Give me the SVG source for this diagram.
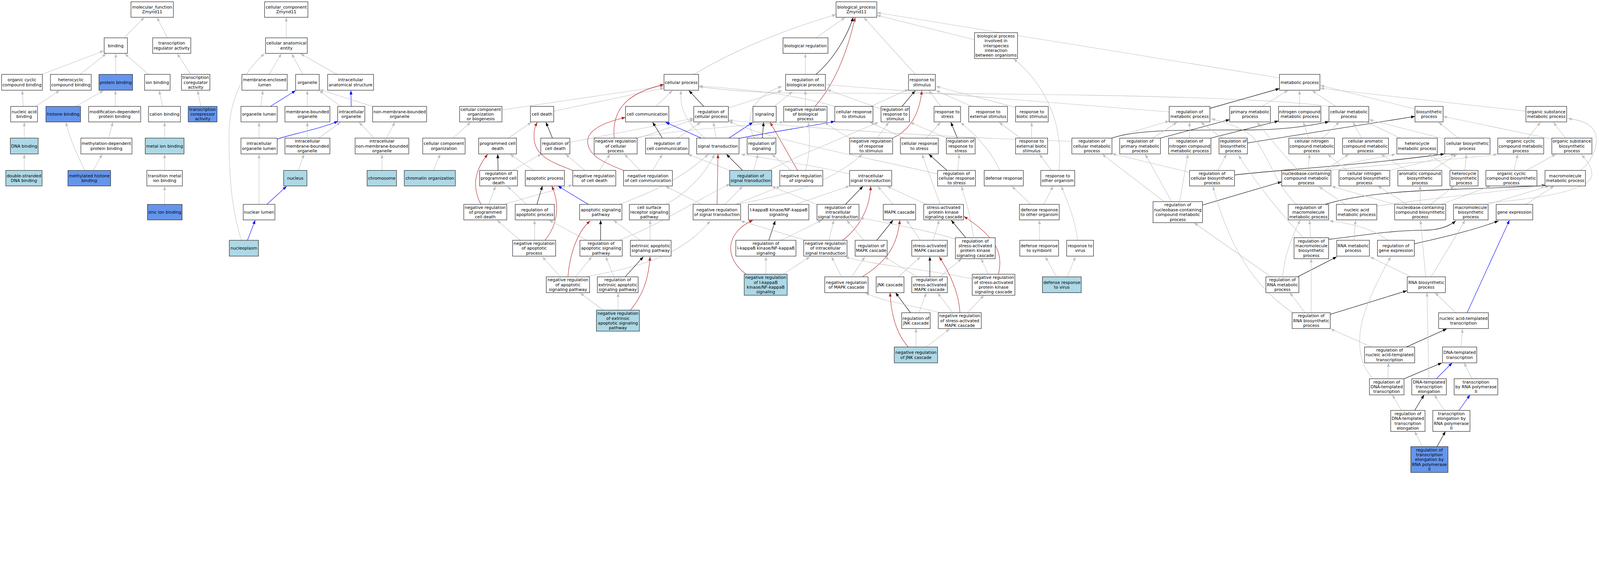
<svg xmlns="http://www.w3.org/2000/svg" width="4947" height="1467" viewBox="0 0 4947 1467" preserveAspectRatio="xMinYMin meet" style="width:100vw;height:100vh;display:block">
<style>
.nd rect{fill:#fff;stroke:#222;stroke-width:1.4}
.nd.lb rect{fill:#add8e6}
.nd.cb rect{fill:#6495ed}
text{font-family:"DejaVu Sans","Liberation Sans",sans-serif;font-size:13px;text-anchor:middle;fill:#000}
#edges path{fill:none;stroke-width:1.3}
#edges .g{stroke:#c0c0c0;marker-end:url(#ag)}
#edges .k{stroke:#000;marker-end:url(#ak)}
#edges .b{stroke:#0000ff;marker-end:url(#ab)}
#edges .r{stroke:#b22222;marker-end:url(#ar)}
</style>
<defs>
<marker id="ag" viewBox="0 0 12 9" refX="12" refY="4.5" markerWidth="12" markerHeight="9" markerUnits="userSpaceOnUse" orient="auto"><path d="M0,0 L12,4.5 L0,9 z" fill="#c0c0c0"/></marker>
<marker id="ak" viewBox="0 0 12 9" refX="12" refY="4.5" markerWidth="12" markerHeight="9" markerUnits="userSpaceOnUse" orient="auto"><path d="M0,0 L12,4.5 L0,9 z" fill="#000"/></marker>
<marker id="ab" viewBox="0 0 12 9" refX="12" refY="4.5" markerWidth="12" markerHeight="9" markerUnits="userSpaceOnUse" orient="auto"><path d="M0,0 L12,4.5 L0,9 z" fill="#0000ff"/></marker>
<marker id="ar" viewBox="0 0 12 9" refX="12" refY="4.5" markerWidth="12" markerHeight="9" markerUnits="userSpaceOnUse" orient="auto"><path d="M0,0 L12,4.5 L0,9 z" fill="#b22222"/></marker>
</defs>
<rect width="4947" height="1467" fill="#fff"/>
<g id="edges">
<path class="g" d="M384,117 L446,54"/>
<path class="g" d="M518,117 L485,54"/>
<path class="g" d="M130,230 L321,157"/>
<path class="g" d="M248,230 L328,166"/>
<path class="g" d="M358,230 L358,166"/>
<path class="g" d="M459,230 L386,166"/>
<path class="g" d="M589,229 L548,166"/>
<path class="g" d="M72,329 L69,280"/>
<path class="g" d="M110,329 L184,280"/>
<path class="g" d="M235,329 L320,280"/>
<path class="g" d="M356,329 L357,280"/>
<path class="g" d="M503,329 L492,280"/>
<path class="g" d="M621,329 L611,280"/>
<path class="g" d="M75,427 L75,378"/>
<path class="g" d="M336,427 L349,378"/>
<path class="g" d="M509,427 L509,378"/>
<path class="g" d="M75,527 L75,477"/>
<path class="g" d="M262,527 C240,480 215,430 204,378"/>
<path class="g" d="M288,527 L316,477"/>
<path class="g" d="M509,527 L509,477"/>
<path class="g" d="M509,632 L509,576"/>
<path class="g" d="M885,117 L885,54"/>
<path class="g" d="M832,230 L870,166"/>
<path class="g" d="M936,230 L902,166"/>
<path class="g" d="M1042,230 L929,166"/>
<path class="g" d="M806,329 L813,280"/>
<path class="b" d="M836,329 L914,280"/>
<path class="g" d="M950,329 L950,280"/>
<path class="g" d="M1053,329 L987,280"/>
<path class="b" d="M1086,329 L1085,280"/>
<path class="g" d="M1152,329 L988,277"/>
<path class="g" d="M801,427 L801,378"/>
<path class="b" d="M857,430 C920,410 990,398 1045,375"/>
<path class="g" d="M950,427 L950,378"/>
<path class="g" d="M985,427 L1053,378"/>
<path class="g" d="M1157,427 L1110,378"/>
<path class="g" d="M1195,427 L1221,378"/>
<path class="g" d="M922,527 L940,477"/>
<path class="g" d="M1181,527 L1181,477"/>
<path class="g" d="M801,632 L801,477"/>
<path class="b" d="M825,632 L886,576"/>
<path class="b" d="M765,743 L789,681"/>
<path class="g" d="M746,743 C718,650 708,560 708,420 C708,300 760,215 818,166"/>
<path class="g" d="M1340,527 L1361,477"/>
<path class="g" d="M1401,427 L1455,378"/>
<path class="g" d="M1552,340 L2053,266"/>
<path class="g" d="M1712,344 L2053,272"/>
<path class="g" d="M2145,230 Q2330,120 2585,45"/>
<path class="g" d="M2523,117 L2613,54"/>
<path class="g" d="M2490,230 L2490,166"/>
<path class="k" d="M2523,230 C2580,180 2620,110 2638,54"/>
<path class="r" d="M2520,329 C2580,260 2620,160 2644,54"/>
<path class="g" d="M2490,329 L2490,280"/>
<path class="g" d="M2830,230 L2671,54"/>
<path class="g" d="M3013,123 L2711,47"/>
<path class="g" d="M3956,241 L2711,39"/>
<path class="g" d="M2028,329 L2079,280"/>
<path class="k" d="M2176,329 L2130,280"/>
<path class="g" d="M2180,427 C2120,380 2100,330 2106,280"/>
<path class="r" d="M1899,427 C1890,330 1950,285 2053,261"/>
<path class="g" d="M2252,334 L2418,280"/>
<path class="g" d="M2394,329 L2450,283"/>
<path class="g" d="M2333,427 C2300,370 2320,300 2418,267"/>
<path class="g" d="M1970,428 L2145,370"/>
<path class="g" d="M1762,440 L2145,366"/>
<path class="g" d="M1960,427 C2100,400 2300,390 2423,377"/>
<path class="k" d="M1708,427 L1688,378"/>
<path class="k" d="M2048,427 L2018,378"/>
<path class="g" d="M2095,427 L2167,378"/>
<path class="b" d="M2168,427 L2058,378"/>
<path class="g" d="M2214,427 L2206,378"/>
<path class="b" d="M2254,427 L2328,378"/>
<path class="b" d="M2285,428 C2400,405 2500,392 2581,375"/>
<path class="k" d="M2357,427 L2361,378"/>
<path class="r" d="M2466,527 L2381,378"/>
<path class="g" d="M1572,427 L1643,378"/>
<path class="k" d="M1540,527 L1539,477"/>
<path class="r" d="M1487,632 C1460,580 1465,530 1508,477"/>
<path class="g" d="M1511,632 L1532,576"/>
<path class="g" d="M1628,632 L1569,576"/>
<path class="g" d="M1561,631 L1770,572"/>
<path class="g" d="M1585,527 L1674,476"/>
<path class="g" d="M1650,527 L1577,477"/>
<path class="g" d="M1608,743 L1537,681"/>
<path class="r" d="M1771,527 C1700,500 1650,480 1651,421 C1651,400 1655,390 1661,378"/>
<path class="g" d="M1808,527 L1749,477"/>
<path class="g" d="M1853,527 L1886,477"/>
<path class="r" d="M1928,527 C1860,500 1820,480 1817,440 C1815,405 1860,380 1934,363"/>
<path class="g" d="M1979,527 L1931,477"/>
<path class="g" d="M2018,527 L2048,477"/>
<path class="k" d="M2296,527 L2246,477"/>
<path class="g" d="M2257,527 L2127,477"/>
<path class="g" d="M2330,527 L2344,477"/>
<path class="g" d="M2447,527 L2386,477"/>
<path class="g" d="M2491,527 C2505,470 2505,420 2499,378"/>
<path class="g" d="M2376,527 L2470,483 L2716,378"/>
<path class="g" d="M2692,329 L2809,276"/>
<path class="g" d="M2581,329 C2450,290 2300,275 2161,266"/>
<path class="g" d="M4109,329 C3900,300 3300,288 2470,288 C2350,287 2250,280 2161,268"/>
<path class="g" d="M2724,337 L2557,277"/>
<path class="k" d="M2789,329 L2830,280"/>
<path class="r" d="M2760,427 C2820,400 2845,340 2850,280"/>
<path class="g" d="M2712,427 L2748,378"/>
<path class="g" d="M2627,428 L2549,379"/>
<path class="g" d="M2909,329 L2872,280"/>
<path class="g" d="M3005,329 L2894,280"/>
<path class="g" d="M3140,332 L2894,267"/>
<path class="g" d="M2864,427 L2908,378"/>
<path class="g" d="M2794,427 L2690,378"/>
<path class="k" d="M2960,427 L2940,378"/>
<path class="g" d="M2926,427 L2814,378"/>
<path class="g" d="M3155,427 L3089,378"/>
<path class="g" d="M3189,427 L3190,378"/>
<path class="g" d="M3314,437 C3000,428 2600,405 2253,372"/>
<path class="g" d="M2899,538 C2700,490 2400,440 2253,375"/>
<path class="g" d="M2627,538 C2550,520 2470,505 2291,477"/>
<path class="g" d="M2275,632 C2400,610 2560,575 2666,477"/>
<path class="k" d="M2928,527 L2872,477"/>
<path class="g" d="M2961,527 L2966,477"/>
<path class="g" d="M3092,527 C3060,460 3010,410 2970,379"/>
<path class="g" d="M3251,527 L3214,477"/>
<path class="g" d="M3274,527 C3290,380 3230,260 3134,182"/>
<path class="g" d="M3187,632 L3129,576"/>
<path class="g" d="M3227,632 L3256,576"/>
<path class="k" d="M2614,632 L2668,576"/>
<path class="r" d="M2605,743 C2650,710 2690,650 2692,576"/>
<path class="g" d="M2761,632 L2714,576"/>
<path class="g" d="M2864,632 L2743,576"/>
<path class="g" d="M2907,632 L2851,477"/>
<path class="g" d="M2460,632 L2627,575"/>
<path class="g" d="M2526,632 L2386,576"/>
<path class="k" d="M1660,632 L1677,575"/>
<path class="r" d="M1685,743 C1720,700 1735,640 1706,575"/>
<path class="g" d="M1653,743 L1653,681"/>
<path class="b" d="M1819,632 L1725,575"/>
<path class="g" d="M1915,632 C2000,600 2100,560 2190,477"/>
<path class="g" d="M2058,632 C2120,600 2180,540 2209,477"/>
<path class="r" d="M2217,632 L2220,477"/>
<path class="g" d="M2241,632 L2296,576"/>
<path class="g" d="M2275,632 L2413,576"/>
<path class="g" d="M2169,632 L2058,576"/>
<path class="k" d="M1857,743 L1857,681"/>
<path class="g" d="M1814,743 L1698,681"/>
<path class="g" d="M1915,743 C2050,690 2150,620 2257,569"/>
<path class="g" d="M1979,743 L1897,681"/>
<path class="g" d="M2010,743 L2010,681"/>
<path class="g" d="M1815,855 C1950,830 2100,800 2196,683"/>
<path class="r" d="M1756,856 C1760,800 1780,720 1825,683"/>
<path class="g" d="M1733,856 L1677,794"/>
<path class="g" d="M1779,856 L1830,794"/>
<path class="k" d="M1933,856 L1989,794"/>
<path class="g" d="M1898,856 L1873,794"/>
<path class="g" d="M1911,959 L1911,906"/>
<path class="g" d="M1865,959 L1794,906"/>
<path class="r" d="M1949,959 C1990,910 2005,860 2010,794"/>
<path class="k" d="M2377,743 L2397,683"/>
<path class="g" d="M2415,743 L2541,681"/>
<path class="g" d="M2368,848 L2368,794"/>
<path class="r" d="M2307,848 C2240,800 2240,720 2328,681"/>
<path class="g" d="M2421,848 L2504,794"/>
<path class="g" d="M2563,743 L2578,681"/>
<path class="g" d="M2491,743 L2290,683"/>
<path class="k" d="M2711,743 L2761,681"/>
<path class="g" d="M2671,743 L2618,681"/>
<path class="r" d="M2666,856 C2740,810 2775,760 2782,681"/>
<path class="g" d="M2634,856 L2674,794"/>
<path class="g" d="M2602,856 L2571,794"/>
<path class="g" d="M2778,856 L2846,794"/>
<path class="g" d="M2846,743 L2803,681"/>
<path class="g" d="M2885,743 L2904,681"/>
<path class="k" d="M2986,735 L2941,681"/>
<path class="g" d="M3010,735 C3000,660 2985,620 2973,576"/>
<path class="g" d="M2954,740 C2900,720 2750,690 2658,674"/>
<path class="r" d="M3087,848 C3100,790 3090,740 2980,669"/>
<path class="g" d="M3055,848 L3034,800"/>
<path class="g" d="M3006,862 C2850,830 2700,820 2613,794"/>
<path class="k" d="M2875,856 L2875,794"/>
<path class="g" d="M2835,856 L2735,794"/>
<path class="g" d="M2907,856 L2973,800"/>
<path class="k" d="M2815,967 L2769,905"/>
<path class="g" d="M2841,967 L2864,906"/>
<path class="g" d="M2946,967 L2899,906"/>
<path class="r" d="M2968,967 C2965,910 2940,850 2904,794"/>
<path class="g" d="M2991,967 L3042,913"/>
<path class="g" d="M2907,967 C2800,940 2720,930 2676,905"/>
<path class="r" d="M2808,1073 C2770,1030 2755,970 2752,905"/>
<path class="g" d="M2832,1073 L2832,1016"/>
<path class="g" d="M2864,1073 L2936,1017"/>
<path class="g" d="M3214,743 L3214,681"/>
<path class="g" d="M3332,743 C3325,680 3300,620 3281,576"/>
<path class="g" d="M3267,856 L3232,794"/>
<path class="g" d="M3300,856 L3325,794"/>
<path class="k" d="M3741,335 L3956,274"/>
<path class="g" d="M3615,346 L2557,262"/>
<path class="g" d="M3902,329 L3983,279"/>
<path class="g" d="M4018,329 L4018,280"/>
<path class="g" d="M4130,329 L4057,280"/>
<path class="g" d="M4375,337 L4082,264"/>
<path class="g" d="M4718,344 L4082,273"/>
<path class="g" d="M3438,427 L3615,374"/>
<path class="k" d="M3438,427 C3520,400 3650,402 3850,402 C3950,402 4040,392 4109,376"/>
<path class="g" d="M3565,427 L3639,378"/>
<path class="k" d="M3588,427 L3802,370"/>
<path class="g" d="M3678,427 L3678,378"/>
<path class="k" d="M3744,427 L3953,374"/>
<path class="g" d="M3779,427 L3713,378"/>
<path class="k" d="M3857,442 L4375,360"/>
<path class="g" d="M4046,427 L4030,378"/>
<path class="g" d="M4089,427 L4141,377"/>
<path class="g" d="M4210,427 L4183,378"/>
<path class="g" d="M4329,427 L4228,378"/>
<path class="g" d="M4467,430 L4233,370"/>
<path class="g" d="M4509,427 L4448,378"/>
<path class="g" d="M4723,427 L4763,378"/>
<path class="g" d="M4840,427 L4803,378"/>
<path class="g" d="M4798,430 L4462,360"/>
<path class="g" d="M3766,527 L3792,477"/>
<path class="g" d="M3678,533 L3438,475"/>
<path class="k" d="M3817,541 C3950,525 4200,512 4466,476"/>
<path class="g" d="M4044,527 L4049,477"/>
<path class="g" d="M4015,527 C3960,470 3920,420 3887,378"/>
<path class="g" d="M4095,527 L4170,477"/>
<path class="g" d="M4100,527 C4150,505 4250,490 4315,477"/>
<path class="g" d="M4110,527 C4300,505 4500,495 4630,477"/>
<path class="g" d="M4165,527 L4105,477"/>
<path class="g" d="M4297,527 L4498,477"/>
<path class="g" d="M4350,527 L4270,477"/>
<path class="g" d="M4427,527 L4505,477"/>
<path class="g" d="M4491,527 L4419,477"/>
<path class="g" d="M4529,527 L4534,477"/>
<path class="g" d="M4681,527 L4693,477"/>
<path class="g" d="M4720,527 L4810,477"/>
<path class="g" d="M4887,527 C4930,490 4945,440 4930,405 C4915,380 4880,370 4848,367"/>
<path class="k" d="M3718,634 L3963,562"/>
<path class="g" d="M3600,624 L3408,477"/>
<path class="g" d="M3623,624 L3541,477"/>
<path class="g" d="M3647,624 L3673,477"/>
<path class="g" d="M4009,632 C3940,570 3920,470 3870,420 C3830,390 3790,380 3745,367"/>
<path class="k" d="M4097,632 C4200,600 4350,590 4500,585 C4650,580 4720,578 4779,573"/>
<path class="g" d="M4030,735 C3950,650 3880,560 3829,480"/>
<path class="g" d="M4052,735 L4049,681"/>
<path class="k" d="M4108,740 C4200,730 4300,712 4400,712 C4450,712 4480,700 4501,683"/>
<path class="g" d="M3996,967 C3900,900 3810,800 3750,576"/>
<path class="g" d="M3930,856 L3692,689"/>
<path class="g" d="M3966,856 C3970,800 3990,740 4020,681"/>
<path class="k" d="M4012,856 L4133,794"/>
<path class="g" d="M4035,967 L3988,905"/>
<path class="g" d="M4054,967 L4054,800"/>
<path class="k" d="M4113,972 L4350,899"/>
<path class="g" d="M4241,1073 L4114,1017"/>
<path class="k" d="M4373,754 C4480,730 4560,710 4633,683"/>
<path class="g" d="M4290,743 C4250,710 4180,690 4110,683"/>
<path class="g" d="M4186,743 L4191,681"/>
<path class="g" d="M4362,856 L4236,794"/>
<path class="g" d="M4408,856 L4392,681"/>
<path class="g" d="M4425,856 L4530,681"/>
<path class="g" d="M4501,967 L4437,905"/>
<path class="b" d="M4536,967 L4667,681"/>
<path class="k" d="M4348,1073 L4473,1017"/>
<path class="g" d="M4517,1073 L4522,1017"/>
<path class="g" d="M4291,1171 L4293,1122"/>
<path class="k" d="M4342,1171 L4458,1122"/>
<path class="g" d="M4247,1171 C4200,1130 4195,1050 4215,980 C4240,900 4280,830 4300,794"/>
<path class="b" d="M4441,1171 L4490,1122"/>
<path class="g" d="M4418,1171 L4412,905"/>
<path class="g" d="M4551,1171 L4527,1122"/>
<path class="g" d="M4333,1269 L4305,1221"/>
<path class="k" d="M4374,1269 L4403,1221"/>
<path class="g" d="M4466,1269 L4435,1221"/>
<path class="b" d="M4511,1269 L4545,1221"/>
<path class="g" d="M4398,1381 L4374,1334"/>
<path class="k" d="M4443,1381 L4469,1334"/>
<path class="g" d="M4312,632 L4117,576"/>
<path class="g" d="M4350,632 L4260,575"/>
<path class="g" d="M4391,632 L4391,575"/>
<path class="g" d="M4423,632 L4496,575"/>
<path class="g" d="M4456,632 L4609,575"/>
<path class="g" d="M4600,632 L4790,575"/>
<path class="g" d="M4600,627 C4750,615 4920,590 4922,540 C4922,515 4905,495 4890,478"/>
<path class="g" d="M4718,632 L4805,575"/>
<path class="g" d="M4159,632 L4078,577"/>
<path class="g" d="M4257,637 C4450,610 4650,590 4777,575"/>
</g>
<g id="n-mf" class="nd"><rect x="405" y="5.5" width="131" height="48"/><text x="470.5" y="26.6">molecular_function<tspan x="470.5" dy="15">Zmynd11</tspan></text></g>
<g id="n-binding" class="nd"><rect x="322" y="117" width="72" height="48"/><text x="358" y="145.6">binding</text></g>
<g id="n-tra" class="nd"><rect x="472" y="117" width="118" height="48"/><text x="531" y="138.1">transcription<tspan x="531" dy="15">regulator activity</tspan></text></g>
<g id="n-occb" class="nd"><rect x="5" y="230" width="126" height="49"/><text x="68" y="251.6">organic cyclic<tspan x="68" dy="15">compound binding</tspan></text></g>
<g id="n-hcb" class="nd"><rect x="156" y="230" width="126" height="49"/><text x="219" y="251.6">heterocyclic<tspan x="219" dy="15">compound binding</tspan></text></g>
<g id="n-pb" class="nd cb"><rect x="306" y="230" width="104" height="49"/><text x="358" y="259.1">protein binding</text></g>
<g id="n-ionb" class="nd"><rect x="447" y="230" width="79" height="49"/><text x="486.5" y="259.1">ion binding</text></g>
<g id="n-tca" class="nd"><rect x="561" y="230" width="88" height="49"/><text x="605" y="244.1">transcription<tspan x="605" dy="15">coregulator</tspan><tspan x="605" dy="15">activity</tspan></text></g>
<g id="n-nab" class="nd"><rect x="33" y="329" width="83" height="48"/><text x="74.5" y="350.1">nucleic acid<tspan x="74.5" dy="15">binding</tspan></text></g>
<g id="n-hb" class="nd cb"><rect x="142" y="329" width="107" height="48"/><text x="195.5" y="357.6">histone binding</text></g>
<g id="n-mdpb" class="nd"><rect x="274" y="329" width="161" height="48"/><text x="354.5" y="350.1">modification-dependent<tspan x="354.5" dy="15">protein binding</tspan></text></g>
<g id="n-cb" class="nd"><rect x="459" y="329" width="99" height="48"/><text x="508.5" y="357.6">cation binding</text></g>
<g id="n-tcoa" class="nd cb"><rect x="582" y="329" width="89" height="48"/><text x="626.5" y="342.6">transcription<tspan x="626.5" dy="15">corepressor</tspan><tspan x="626.5" dy="15">activity</tspan></text></g>
<g id="n-dnab" class="nd lb"><rect x="32" y="427" width="86" height="49"/><text x="75" y="456.1">DNA binding</text></g>
<g id="n-methdpb" class="nd"><rect x="250" y="427" width="158" height="49"/><text x="329" y="448.6">methylation-dependent<tspan x="329" dy="15">protein binding</tspan></text></g>
<g id="n-mib" class="nd lb"><rect x="449" y="427" width="120" height="49"/><text x="509" y="456.1">metal ion binding</text></g>
<g id="n-dsdna" class="nd lb"><rect x="18" y="527" width="112" height="48"/><text x="74" y="548.1">double-stranded<tspan x="74" dy="15">DNA binding</tspan></text></g>
<g id="n-mhb" class="nd cb"><rect x="210" y="527" width="132" height="48"/><text x="276" y="548.1">methylated histone<tspan x="276" dy="15">binding</tspan></text></g>
<g id="n-tmib" class="nd"><rect x="454" y="527" width="110" height="48"/><text x="509" y="548.1">transition metal<tspan x="509" dy="15">ion binding</tspan></text></g>
<g id="n-zib" class="nd cb"><rect x="456" y="632" width="107" height="48"/><text x="509.5" y="660.6">zinc ion binding</text></g>
<g id="n-cc" class="nd"><rect x="818" y="5.5" width="134" height="48"/><text x="885" y="26.6">cellular_component<tspan x="885" dy="15">Zmynd11</tspan></text></g>
<g id="n-cae" class="nd"><rect x="821" y="117" width="129" height="48"/><text x="885.5" y="138.1">cellular anatomical<tspan x="885.5" dy="15">entity</tspan></text></g>
<g id="n-mel" class="nd"><rect x="748" y="230" width="140" height="49"/><text x="818" y="251.6">membrane-enclosed<tspan x="818" dy="15">lumen</tspan></text></g>
<g id="n-org" class="nd"><rect x="914" y="230" width="73" height="49"/><text x="950.5" y="259.1">organelle</text></g>
<g id="n-ias" class="nd"><rect x="1013" y="230" width="142" height="49"/><text x="1084" y="251.6">intracellular<tspan x="1084" dy="15">anatomical structure</tspan></text></g>
<g id="n-orgl" class="nd"><rect x="745" y="329" width="112" height="48"/><text x="801" y="357.6">organelle lumen</text></g>
<g id="n-mbo" class="nd"><rect x="881" y="329" width="139" height="48"/><text x="950.5" y="350.1">membrane-bounded<tspan x="950.5" dy="15">organelle</tspan></text></g>
<g id="n-io" class="nd"><rect x="1044" y="329" width="84" height="48"/><text x="1086" y="350.1">intracellular<tspan x="1086" dy="15">organelle</tspan></text></g>
<g id="n-nmbo" class="nd"><rect x="1152" y="329" width="167" height="48"/><text x="1235.5" y="350.1">non-membrane-bounded<tspan x="1235.5" dy="15">organelle</tspan></text></g>
<g id="n-iol" class="nd"><rect x="745" y="427" width="112" height="49"/><text x="801" y="448.6">intracellular<tspan x="801" dy="15">organelle lumen</tspan></text></g>
<g id="n-imbo" class="nd"><rect x="881" y="427" width="139" height="49"/><text x="950.5" y="441.1">intracellular<tspan x="950.5" dy="15">membrane-bounded</tspan><tspan x="950.5" dy="15">organelle</tspan></text></g>
<g id="n-inmbo" class="nd"><rect x="1098" y="427" width="166" height="49"/><text x="1181" y="441.1">intracellular<tspan x="1181" dy="15">non-membrane-bounded</tspan><tspan x="1181" dy="15">organelle</tspan></text></g>
<g id="n-nucleus" class="nd lb"><rect x="877" y="527" width="72" height="48"/><text x="913" y="555.6">nucleus</text></g>
<g id="n-chrom" class="nd lb"><rect x="1135" y="527" width="91" height="48"/><text x="1180.5" y="555.6">chromosome</text></g>
<g id="n-nl" class="nd"><rect x="752" y="632" width="98" height="48"/><text x="801" y="660.6">nuclear lumen</text></g>
<g id="n-np" class="nd lb"><rect x="709" y="743" width="90" height="49"/><text x="754" y="772.1">nucleoplasm</text></g>
<g id="n-bp" class="nd"><rect x="2585" y="5.5" width="126" height="48"/><text x="2648" y="26.6">biological_process<tspan x="2648" dy="15">Zmynd11</tspan></text></g>
<g id="n-breg" class="nd"><rect x="2421" y="117" width="139" height="48"/><text x="2490.5" y="145.6">biological regulation</text></g>
<g id="n-bpi" class="nd"><rect x="3013" y="101" width="133" height="80"/><text x="3079.5" y="115.6">biological process<tspan x="3079.5" dy="15">involved in</tspan><tspan x="3079.5" dy="15">interspecies</tspan><tspan x="3079.5" dy="15">interaction</tspan><tspan x="3079.5" dy="15">between organisms</tspan></text></g>
<g id="n-cp" class="nd"><rect x="2053" y="230" width="107" height="49"/><text x="2106.5" y="259.1">cellular process</text></g>
<g id="n-rbp" class="nd"><rect x="2429" y="230" width="123" height="49"/><text x="2490.5" y="251.6">regulation of<tspan x="2490.5" dy="15">biological process</tspan></text></g>
<g id="n-rs" class="nd"><rect x="2809" y="230" width="83" height="49"/><text x="2850.5" y="251.6">response to<tspan x="2850.5" dy="15">stimulus</tspan></text></g>
<g id="n-mp" class="nd"><rect x="3956" y="230" width="125" height="49"/><text x="4018.5" y="259.1">metabolic process</text></g>
<g id="n-ccob" class="nd"><rect x="1421" y="329" width="131" height="48"/><text x="1486.5" y="342.6">cellular component<tspan x="1486.5" dy="15">organization</tspan><tspan x="1486.5" dy="15">or biogenesis</tspan></text></g>
<g id="n-cd" class="nd"><rect x="1640" y="329" width="72" height="48"/><text x="1676" y="357.6">cell death</text></g>
<g id="n-ccomm" class="nd"><rect x="1934" y="329" width="134" height="48"/><text x="2001" y="357.6">cell communication</text></g>
<g id="n-rcp" class="nd"><rect x="2145" y="329" width="107" height="48"/><text x="2198.5" y="350.1">regulation of<tspan x="2198.5" dy="15">cellular process</tspan></text></g>
<g id="n-sig" class="nd"><rect x="2328" y="329" width="72" height="48"/><text x="2364" y="357.6">signaling</text></g>
<g id="n-nrbp" class="nd"><rect x="2423" y="329" width="134" height="48"/><text x="2490" y="342.6">negative regulation<tspan x="2490" dy="15">of biological</tspan><tspan x="2490" dy="15">process</tspan></text></g>
<g id="n-crs" class="nd"><rect x="2581" y="329" width="118" height="48"/><text x="2640" y="350.1">cellular response<tspan x="2640" dy="15">to stimulus</tspan></text></g>
<g id="n-rrs" class="nd"><rect x="2724" y="329" width="88" height="48"/><text x="2768" y="342.6">regulation of<tspan x="2768" dy="15">response to</tspan><tspan x="2768" dy="15">stimulus</tspan></text></g>
<g id="n-rstress" class="nd"><rect x="2888" y="329" width="82" height="48"/><text x="2929" y="350.1">response to<tspan x="2929" dy="15">stress</tspan></text></g>
<g id="n-res" class="nd"><rect x="2995" y="329" width="120" height="48"/><text x="3055" y="350.1">response to<tspan x="3055" dy="15">external stimulus</tspan></text></g>
<g id="n-rbs" class="nd"><rect x="3140" y="329" width="101" height="48"/><text x="3190.5" y="350.1">response to<tspan x="3190.5" dy="15">biotic stimulus</tspan></text></g>
<g id="n-rmp" class="nd"><rect x="3615" y="329" width="126" height="48"/><text x="3678" y="350.1">regulation of<tspan x="3678" dy="15">metabolic process</tspan></text></g>
<g id="n-pmp" class="nd"><rect x="3802" y="329" width="126" height="48"/><text x="3865" y="350.1">primary metabolic<tspan x="3865" dy="15">process</tspan></text></g>
<g id="n-ncmp" class="nd"><rect x="3953" y="329" width="131" height="48"/><text x="4018.5" y="350.1">nitrogen compound<tspan x="4018.5" dy="15">metabolic process</tspan></text></g>
<g id="n-cmp" class="nd"><rect x="4109" y="329" width="123" height="48"/><text x="4170.5" y="350.1">cellular metabolic<tspan x="4170.5" dy="15">process</tspan></text></g>
<g id="n-bsp" class="nd"><rect x="4375" y="329" width="87" height="48"/><text x="4418.5" y="350.1">biosynthetic<tspan x="4418.5" dy="15">process</tspan></text></g>
<g id="n-osmp" class="nd"><rect x="4718" y="329" width="126" height="48"/><text x="4781" y="350.1">organic substance<tspan x="4781" dy="15">metabolic process</tspan></text></g>
<g id="n-cco" class="nd"><rect x="1307" y="427" width="131" height="49"/><text x="1372.5" y="448.6">cellular component<tspan x="1372.5" dy="15">organization</tspan></text></g>
<g id="n-pcd" class="nd"><rect x="1480" y="427" width="117" height="49"/><text x="1538.5" y="448.6">programmed cell<tspan x="1538.5" dy="15">death</tspan></text></g>
<g id="n-rcd" class="nd"><rect x="1672" y="427" width="90" height="49"/><text x="1717" y="448.6">regulation of<tspan x="1717" dy="15">cell death</tspan></text></g>
<g id="n-nrcp" class="nd"><rect x="1837" y="427" width="133" height="49"/><text x="1903.5" y="441.1">negative regulation<tspan x="1903.5" dy="15">of cellular</tspan><tspan x="1903.5" dy="15">process</tspan></text></g>
<g id="n-rcc" class="nd"><rect x="1996" y="427" width="134" height="49"/><text x="2063" y="448.6">regulation of<tspan x="2063" dy="15">cell communication</tspan></text></g>
<g id="n-st" class="nd"><rect x="2154" y="427" width="131" height="49"/><text x="2219.5" y="456.1">signal transduction</text></g>
<g id="n-rsig" class="nd"><rect x="2310" y="427" width="89" height="49"/><text x="2354.5" y="448.6">regulation of<tspan x="2354.5" dy="15">signaling</tspan></text></g>
<g id="n-nrrs" class="nd"><rect x="2627" y="427" width="133" height="49"/><text x="2693.5" y="441.1">negative regulation<tspan x="2693.5" dy="15">of response</tspan><tspan x="2693.5" dy="15">to stimulus</tspan></text></g>
<g id="n-crstress" class="nd"><rect x="2784" y="427" width="117" height="49"/><text x="2842.5" y="448.6">cellular response<tspan x="2842.5" dy="15">to stress</tspan></text></g>
<g id="n-rrstress" class="nd"><rect x="2926" y="427" width="89" height="49"/><text x="2970.5" y="441.1">regulation of<tspan x="2970.5" dy="15">response to</tspan><tspan x="2970.5" dy="15">stress</tspan></text></g>
<g id="n-rebs" class="nd"><rect x="3140" y="427" width="99" height="49"/><text x="3189.5" y="441.1">response to<tspan x="3189.5" dy="15">external biotic</tspan><tspan x="3189.5" dy="15">stimulus</tspan></text></g>
<g id="n-rcmp" class="nd"><rect x="3314" y="427" width="124" height="49"/><text x="3376" y="441.1">regulation of<tspan x="3376" dy="15">cellular metabolic</tspan><tspan x="3376" dy="15">process</tspan></text></g>
<g id="n-rpmp" class="nd"><rect x="3462" y="427" width="126" height="49"/><text x="3525" y="441.1">regulation of<tspan x="3525" dy="15">primary metabolic</tspan><tspan x="3525" dy="15">process</tspan></text></g>
<g id="n-rncmp" class="nd"><rect x="3613" y="427" width="131" height="49"/><text x="3678.5" y="441.1">regulation of<tspan x="3678.5" dy="15">nitrogen compound</tspan><tspan x="3678.5" dy="15">metabolic process</tspan></text></g>
<g id="n-rbsp" class="nd"><rect x="3769" y="427" width="88" height="49"/><text x="3813" y="441.1">regulation of<tspan x="3813" dy="15">biosynthetic</tspan><tspan x="3813" dy="15">process</tspan></text></g>
<g id="n-cncmp" class="nd"><rect x="3985" y="427" width="141" height="49"/><text x="4055.5" y="441.1">cellular nitrogen<tspan x="4055.5" dy="15">compound metabolic</tspan><tspan x="4055.5" dy="15">process</tspan></text></g>
<g id="n-camp" class="nd"><rect x="4151" y="427" width="142" height="49"/><text x="4222" y="441.1">cellular aromatic<tspan x="4222" dy="15">compound metabolic</tspan><tspan x="4222" dy="15">process</tspan></text></g>
<g id="n-hmp" class="nd"><rect x="4319" y="427" width="125" height="49"/><text x="4381.5" y="448.6">heterocycle<tspan x="4381.5" dy="15">metabolic process</tspan></text></g>
<g id="n-cbsp" class="nd"><rect x="4467" y="427" width="140" height="49"/><text x="4537" y="448.6">cellular biosynthetic<tspan x="4537" dy="15">process</tspan></text></g>
<g id="n-occmp" class="nd"><rect x="4631" y="427" width="142" height="49"/><text x="4702" y="441.1">organic cyclic<tspan x="4702" dy="15">compound metabolic</tspan><tspan x="4702" dy="15">process</tspan></text></g>
<g id="n-osbp" class="nd"><rect x="4798" y="427" width="124" height="49"/><text x="4860" y="441.1">organic substance<tspan x="4860" dy="15">biosynthetic</tspan><tspan x="4860" dy="15">process</tspan></text></g>
<g id="n-chromorg" class="nd lb"><rect x="1250" y="527" width="158" height="48"/><text x="1329" y="555.6">chromatin organization</text></g>
<g id="n-rpcd" class="nd"><rect x="1483" y="527" width="117" height="48"/><text x="1541.5" y="540.6">regulation of<tspan x="1541.5" dy="15">programmed cell</tspan><tspan x="1541.5" dy="15">death</tspan></text></g>
<g id="n-ap" class="nd"><rect x="1624" y="527" width="121" height="48"/><text x="1684.5" y="555.6">apoptotic process</text></g>
<g id="n-nrcd" class="nd"><rect x="1771" y="527" width="133" height="48"/><text x="1837.5" y="548.1">negative regulation<tspan x="1837.5" dy="15">of cell death</tspan></text></g>
<g id="n-nrcc" class="nd"><rect x="1928" y="527" width="151" height="48"/><text x="2003.5" y="548.1">negative regulation<tspan x="2003.5" dy="15">of cell communication</tspan></text></g>
<g id="n-rst" class="nd lb"><rect x="2256" y="527" width="130" height="48"/><text x="2321" y="548.1">regulation of<tspan x="2321" dy="15">signal transduction</tspan></text></g>
<g id="n-nrsig" class="nd"><rect x="2411" y="527" width="133" height="48"/><text x="2477.5" y="548.1">negative regulation<tspan x="2477.5" dy="15">of signaling</tspan></text></g>
<g id="n-ist" class="nd"><rect x="2627" y="527" width="130" height="48"/><text x="2692" y="548.1">intracellular<tspan x="2692" dy="15">signal transduction</tspan></text></g>
<g id="n-rcrs" class="nd"><rect x="2899" y="527" width="117" height="48"/><text x="2957.5" y="540.6">regulation of<tspan x="2957.5" dy="15">cellular response</tspan><tspan x="2957.5" dy="15">to stress</tspan></text></g>
<g id="n-dr" class="nd"><rect x="3043" y="527" width="121" height="48"/><text x="3103.5" y="555.6">defense response</text></g>
<g id="n-rtoo" class="nd"><rect x="3218" y="527" width="105" height="48"/><text x="3270.5" y="548.1">response to<tspan x="3270.5" dy="15">other organism</tspan></text></g>
<g id="n-rcbsp" class="nd"><rect x="3678" y="527" width="139" height="48"/><text x="3747.5" y="540.6">regulation of<tspan x="3747.5" dy="15">cellular biosynthetic</tspan><tspan x="3747.5" dy="15">process</tspan></text></g>
<g id="n-nccmp" class="nd"><rect x="3963" y="527" width="152" height="48"/><text x="4039" y="540.6">nucleobase-containing<tspan x="4039" dy="15">compound metabolic</tspan><tspan x="4039" dy="15">process</tspan></text></g>
<g id="n-cncbp" class="nd"><rect x="4140" y="527" width="157" height="48"/><text x="4218.5" y="540.6">cellular nitrogen<tspan x="4218.5" dy="15">compound biosynthetic</tspan><tspan x="4218.5" dy="15">process</tspan></text></g>
<g id="n-acbp" class="nd"><rect x="4322" y="527" width="136" height="48"/><text x="4390" y="540.6">aromatic compound<tspan x="4390" dy="15">biosynthetic</tspan><tspan x="4390" dy="15">process</tspan></text></g>
<g id="n-hbp" class="nd"><rect x="4483" y="527" width="87" height="48"/><text x="4526.5" y="540.6">heterocycle<tspan x="4526.5" dy="15">biosynthetic</tspan><tspan x="4526.5" dy="15">process</tspan></text></g>
<g id="n-occbp" class="nd"><rect x="4594" y="527" width="158" height="48"/><text x="4673" y="540.6">organic cyclic<tspan x="4673" dy="15">compound biosynthetic</tspan><tspan x="4673" dy="15">process</tspan></text></g>
<g id="n-mmp" class="nd"><rect x="4777" y="527" width="125" height="48"/><text x="4839.5" y="548.1">macromolecule<tspan x="4839.5" dy="15">metabolic process</tspan></text></g>
<g id="n-nrpcd" class="nd"><rect x="1434" y="632" width="133" height="48"/><text x="1500.5" y="645.6">negative regulation<tspan x="1500.5" dy="15">of programmed</tspan><tspan x="1500.5" dy="15">cell death</tspan></text></g>
<g id="n-rap" class="nd"><rect x="1593" y="632" width="121" height="48"/><text x="1653.5" y="653.1">regulation of<tspan x="1653.5" dy="15">apoptotic process</tspan></text></g>
<g id="n-asp" class="nd"><rect x="1792" y="632" width="131" height="48"/><text x="1857.5" y="653.1">apoptotic signaling<tspan x="1857.5" dy="15">pathway</tspan></text></g>
<g id="n-csrsp" class="nd"><rect x="1946" y="632" width="123" height="48"/><text x="2007.5" y="645.6">cell surface<tspan x="2007.5" dy="15">receptor signaling</tspan><tspan x="2007.5" dy="15">pathway</tspan></text></g>
<g id="n-nrst" class="nd"><rect x="2143" y="632" width="147" height="48"/><text x="2216.5" y="653.1">negative regulation<tspan x="2216.5" dy="15">of signal transduction</tspan></text></g>
<g id="n-ikb" class="nd"><rect x="2314" y="632" width="187" height="48"/><text x="2407.5" y="653.1">I-kappaB kinase/NF-kappaB<tspan x="2407.5" dy="15">signaling</tspan></text></g>
<g id="n-rist" class="nd"><rect x="2526" y="632" width="130" height="48"/><text x="2591" y="645.6">regulation of<tspan x="2591" dy="15">intracellular</tspan><tspan x="2591" dy="15">signal transduction</tspan></text></g>
<g id="n-mapk" class="nd"><rect x="2731" y="632" width="100" height="48"/><text x="2781" y="660.6">MAPK cascade</text></g>
<g id="n-sapk" class="nd"><rect x="2856" y="632" width="123" height="48"/><text x="2917.5" y="645.6">stress-activated<tspan x="2917.5" dy="15">protein kinase</tspan><tspan x="2917.5" dy="15">signaling cascade</tspan></text></g>
<g id="n-drtoo" class="nd"><rect x="3152" y="632" width="123" height="48"/><text x="3213.5" y="653.1">defense response<tspan x="3213.5" dy="15">to other organism</tspan></text></g>
<g id="n-rnccmp" class="nd"><rect x="3565" y="623.5" width="153" height="65"/><text x="3641.5" y="638.1">regulation of<tspan x="3641.5" dy="15">nucleobase-containing</tspan><tspan x="3641.5" dy="15">compound metabolic</tspan><tspan x="3641.5" dy="15">process</tspan></text></g>
<g id="n-rmmp" class="nd"><rect x="3983" y="632" width="125" height="48"/><text x="4045.5" y="645.6">regulation of<tspan x="4045.5" dy="15">macromolecule</tspan><tspan x="4045.5" dy="15">metabolic process</tspan></text></g>
<g id="n-namp" class="nd"><rect x="4132" y="632" width="125" height="48"/><text x="4194.5" y="653.1">nucleic acid<tspan x="4194.5" dy="15">metabolic process</tspan></text></g>
<g id="n-nccbp" class="nd"><rect x="4312" y="632" width="158" height="48"/><text x="4391" y="645.6">nucleobase-containing<tspan x="4391" dy="15">compound biosynthetic</tspan><tspan x="4391" dy="15">process</tspan></text></g>
<g id="n-mbp" class="nd"><rect x="4494" y="632" width="107" height="48"/><text x="4547.5" y="645.6">macromolecule<tspan x="4547.5" dy="15">biosynthetic</tspan><tspan x="4547.5" dy="15">process</tspan></text></g>
<g id="n-ge" class="nd"><rect x="4626" y="632" width="113" height="48"/><text x="4682.5" y="660.6">gene expression</text></g>
<g id="n-nrap" class="nd"><rect x="1585" y="743" width="133" height="49"/><text x="1651.5" y="757.1">negative regulation<tspan x="1651.5" dy="15">of apoptotic</tspan><tspan x="1651.5" dy="15">process</tspan></text></g>
<g id="n-rasp" class="nd"><rect x="1793" y="743" width="131" height="49"/><text x="1858.5" y="757.1">regulation of<tspan x="1858.5" dy="15">apoptotic signaling</tspan><tspan x="1858.5" dy="15">pathway</tspan></text></g>
<g id="n-easp" class="nd"><rect x="1949" y="743" width="126" height="49"/><text x="2012" y="764.6">extrinsic apoptotic<tspan x="2012" dy="15">signaling pathway</tspan></text></g>
<g id="n-rikb" class="nd"><rect x="2275" y="743" width="186" height="49"/><text x="2368" y="757.1">regulation of<tspan x="2368" dy="15">I-kappaB kinase/NF-kappaB</tspan><tspan x="2368" dy="15">signaling</tspan></text></g>
<g id="n-nrist" class="nd"><rect x="2485" y="743" width="134" height="49"/><text x="2552" y="757.1">negative regulation<tspan x="2552" dy="15">of intracellular</tspan><tspan x="2552" dy="15">signal transduction</tspan></text></g>
<g id="n-rmapk" class="nd"><rect x="2644" y="743" width="99" height="49"/><text x="2693.5" y="764.6">regulation of<tspan x="2693.5" dy="15">MAPK cascade</tspan></text></g>
<g id="n-samapk" class="nd"><rect x="2819" y="743" width="110" height="49"/><text x="2874" y="764.6">stress-activated<tspan x="2874" dy="15">MAPK cascade</tspan></text></g>
<g id="n-rsapk" class="nd"><rect x="2954" y="735" width="123" height="65"/><text x="3015.5" y="749.6">regulation of<tspan x="3015.5" dy="15">stress-activated</tspan><tspan x="3015.5" dy="15">protein kinase</tspan><tspan x="3015.5" dy="15">signaling cascade</tspan></text></g>
<g id="n-drs" class="nd"><rect x="3153" y="743" width="120" height="49"/><text x="3213" y="764.6">defense response<tspan x="3213" dy="15">to symbiont</tspan></text></g>
<g id="n-rv" class="nd"><rect x="3298" y="743" width="83" height="49"/><text x="3339.5" y="764.6">response to<tspan x="3339.5" dy="15">virus</tspan></text></g>
<g id="n-rmbp" class="nd"><rect x="4001" y="735" width="107" height="65"/><text x="4054.5" y="749.6">regulation of<tspan x="4054.5" dy="15">macromolecule</tspan><tspan x="4054.5" dy="15">biosynthetic</tspan><tspan x="4054.5" dy="15">process</tspan></text></g>
<g id="n-rnamp" class="nd"><rect x="4133" y="743" width="101" height="49"/><text x="4183.5" y="764.6">RNA metabolic<tspan x="4183.5" dy="15">process</tspan></text></g>
<g id="n-rge" class="nd"><rect x="4259" y="743" width="114" height="49"/><text x="4316" y="764.6">regulation of<tspan x="4316" dy="15">gene expression</tspan></text></g>
<g id="n-nrasp" class="nd"><rect x="1689" y="856" width="134" height="49"/><text x="1756" y="870.1">negative regulation<tspan x="1756" dy="15">of apoptotic</tspan><tspan x="1756" dy="15">signaling pathway</tspan></text></g>
<g id="n-reasp" class="nd"><rect x="1847" y="856" width="126" height="49"/><text x="1910" y="870.1">regulation of<tspan x="1910" dy="15">extrinsic apoptotic</tspan><tspan x="1910" dy="15">signaling pathway</tspan></text></g>
<g id="n-nrikb" class="nd lb"><rect x="2301" y="848" width="133" height="65"/><text x="2367.5" y="862.6">negative regulation<tspan x="2367.5" dy="15">of I-kappaB</tspan><tspan x="2367.5" dy="15">kinase/NF-kappaB</tspan><tspan x="2367.5" dy="15">signaling</tspan></text></g>
<g id="n-nrmapk" class="nd"><rect x="2550" y="856" width="134" height="49"/><text x="2617" y="877.6">negative regulation<tspan x="2617" dy="15">of MAPK cascade</tspan></text></g>
<g id="n-jnk" class="nd"><rect x="2709" y="856" width="86" height="49"/><text x="2752" y="885.1">JNK cascade</text></g>
<g id="n-rsamapk" class="nd"><rect x="2819" y="856" width="110" height="49"/><text x="2874" y="870.1">regulation of<tspan x="2874" dy="15">stress-activated</tspan><tspan x="2874" dy="15">MAPK cascade</tspan></text></g>
<g id="n-nrsapk" class="nd"><rect x="3006" y="848" width="132" height="65"/><text x="3072" y="862.6">negative regulation<tspan x="3072" dy="15">of stress-activated</tspan><tspan x="3072" dy="15">protein kinase</tspan><tspan x="3072" dy="15">signaling cascade</tspan></text></g>
<g id="n-drv" class="nd lb"><rect x="3223" y="856" width="120" height="49"/><text x="3283" y="877.6">defense response<tspan x="3283" dy="15">to virus</tspan></text></g>
<g id="n-rrnamp" class="nd"><rect x="3914" y="856" width="102" height="49"/><text x="3965" y="870.1">regulation of<tspan x="3965" dy="15">RNA metabolic</tspan><tspan x="3965" dy="15">process</tspan></text></g>
<g id="n-rnabp" class="nd"><rect x="4351" y="856" width="118" height="49"/><text x="4410" y="877.6">RNA biosynthetic<tspan x="4410" dy="15">process</tspan></text></g>
<g id="n-nreasp" class="nd lb"><rect x="1844" y="959" width="133" height="65"/><text x="1910.5" y="973.6">negative regulation<tspan x="1910.5" dy="15">of extrinsic</tspan><tspan x="1910.5" dy="15">apoptotic signaling</tspan><tspan x="1910.5" dy="15">pathway</tspan></text></g>
<g id="n-rjnk" class="nd"><rect x="2788" y="967" width="88" height="49"/><text x="2832" y="988.6">regulation of<tspan x="2832" dy="15">JNK cascade</tspan></text></g>
<g id="n-nrsamapk" class="nd"><rect x="2901" y="967" width="133" height="49"/><text x="2967.5" y="981.1">negative regulation<tspan x="2967.5" dy="15">of stress-activated</tspan><tspan x="2967.5" dy="15">MAPK cascade</tspan></text></g>
<g id="n-rrnabp" class="nd"><rect x="3995" y="967" width="118" height="49"/><text x="4054" y="981.1">regulation of<tspan x="4054" dy="15">RNA biosynthetic</tspan><tspan x="4054" dy="15">process</tspan></text></g>
<g id="n-natt" class="nd"><rect x="4448" y="967" width="154" height="49"/><text x="4525" y="988.6">nucleic acid-templated<tspan x="4525" dy="15">transcription</tspan></text></g>
<g id="n-nrjnk" class="nd lb"><rect x="2765" y="1073" width="134" height="49"/><text x="2832" y="1094.6">negative regulation<tspan x="2832" dy="15">of JNK cascade</tspan></text></g>
<g id="n-rnatt" class="nd"><rect x="4219" y="1073" width="155" height="49"/><text x="4296.5" y="1087.1">regulation of<tspan x="4296.5" dy="15">nucleic acid-templated</tspan><tspan x="4296.5" dy="15">transcription</tspan></text></g>
<g id="n-dtt" class="nd"><rect x="4460" y="1073" width="106" height="49"/><text x="4513" y="1094.6">DNA-templated<tspan x="4513" dy="15">transcription</tspan></text></g>
<g id="n-rdtt" class="nd"><rect x="4234" y="1171" width="107" height="50"/><text x="4287.5" y="1185.6">regulation of<tspan x="4287.5" dy="15">DNA-templated</tspan><tspan x="4287.5" dy="15">transcription</tspan></text></g>
<g id="n-dtte" class="nd"><rect x="4365" y="1171" width="107" height="50"/><text x="4418.5" y="1185.6">DNA-templated<tspan x="4418.5" dy="15">transcription</tspan><tspan x="4418.5" dy="15">elongation</tspan></text></g>
<g id="n-trp2" class="nd"><rect x="4496" y="1171" width="135" height="50"/><text x="4563.5" y="1185.6">transcription<tspan x="4563.5" dy="15">by RNA polymerase</tspan><tspan x="4563.5" dy="15">II</tspan></text></g>
<g id="n-rdtte" class="nd"><rect x="4300" y="1269" width="106" height="65"/><text x="4353" y="1283.6">regulation of<tspan x="4353" dy="15">DNA-templated</tspan><tspan x="4353" dy="15">transcription</tspan><tspan x="4353" dy="15">elongation</tspan></text></g>
<g id="n-tep2" class="nd"><rect x="4430" y="1269" width="115" height="65"/><text x="4487.5" y="1283.6">transcription<tspan x="4487.5" dy="15">elongation by</tspan><tspan x="4487.5" dy="15">RNA polymerase</tspan><tspan x="4487.5" dy="15">II</tspan></text></g>
<g id="n-rtep2" class="nd cb"><rect x="4362" y="1381" width="115" height="80"/><text x="4419.5" y="1395.6">regulation of<tspan x="4419.5" dy="15">transcription</tspan><tspan x="4419.5" dy="15">elongation by</tspan><tspan x="4419.5" dy="15">RNA polymerase</tspan><tspan x="4419.5" dy="15">II</tspan></text></g>
</svg>
